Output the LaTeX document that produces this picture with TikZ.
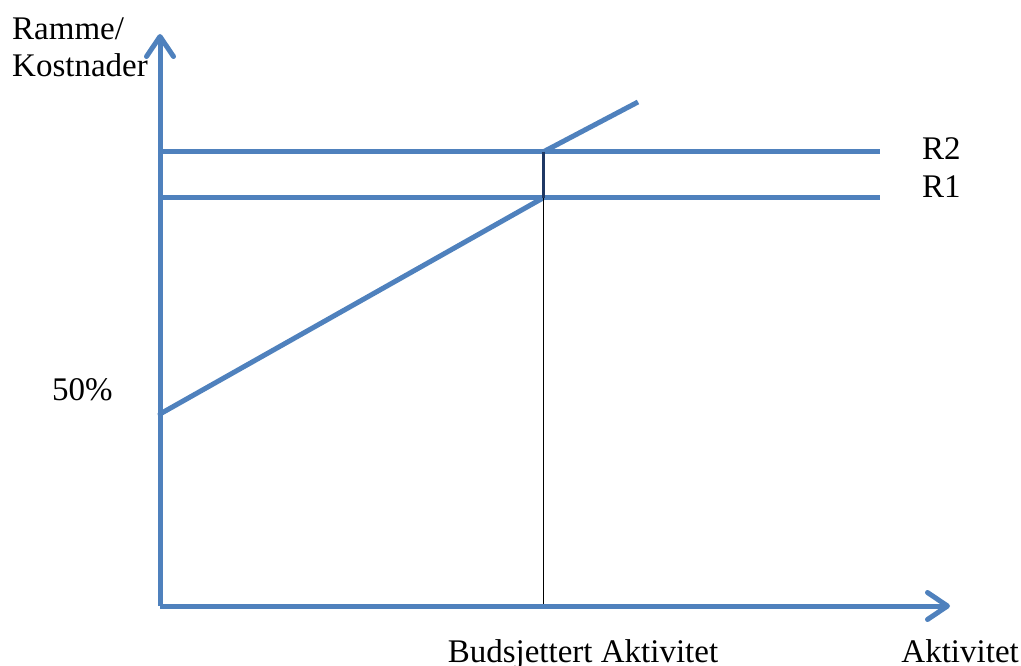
\documentclass[tikz,border=0pt]{standalone}
\usepackage{fontspec}
\setmainfont{Liberation Serif}
\usetikzlibrary{arrows.meta}
\definecolor{lineblue}{HTML}{4F81BD}
\definecolor{navy}{HTML}{1F3864}
\tikzset{
  axis/.style={draw=lineblue, line width=5pt, -{Straight Barb[length=20pt,width=27pt,round]}},
  bluel/.style={draw=lineblue, line width=5pt},
  lbl/.style={font=\fontsize{33}{38}\selectfont, inner sep=0pt, text=black}
}
\begin{document}
\begin{tikzpicture}[x=1pt,y=-1pt]
\useasboundingbox (0,0) rectangle (1021,666);
\coordinate (O) at (160,606);
\coordinate (ytip) at (160,34);
\coordinate (xtip) at (950,606);
\coordinate (r2a) at (160,152);
\coordinate (r2b) at (880,152);
\coordinate (r1a) at (160,198);
\coordinate (r1b) at (880,198);
\coordinate (c0) at (160,414);
\coordinate (c1) at (543,198);
\coordinate (c2) at (543,152);
\coordinate (c3) at (638,102);
\coordinate (b0) at (543,606);
% lines
\draw[bluel] (r2a) -- (r2b);
\draw[bluel] (r1a) -- (r1b);
\draw[bluel, line cap=round] (c0) -- (c1);
\draw[bluel] (c2) -- (c3);
\draw[black, line width=0.6pt] (c1) -- (b0);
\draw[navy, line width=3pt] (c2) -- (c1);
\draw[axis] (O) -- (ytip);
\draw[axis] (O) -- (xtip);
% labels
\node[lbl, anchor=base west] (ramme) at (12,40) {Ramme/};
\node[lbl, anchor=base west] (kost) at (12,77) {Kostnader};
\node[lbl, anchor=base west] (p50) at (52,400) {50\%};
\node[lbl, anchor=base west] (R2) at (922,160) {R2};
\node[lbl, anchor=base west] (R1) at (922,197) {R1};
\node[lbl, anchor=base] (bud) at (583,662) {Budsjettert Aktivitet};
\node[lbl, anchor=base east] (akt) at (1019,662) {Aktivitet};
\end{tikzpicture}
\end{document}
